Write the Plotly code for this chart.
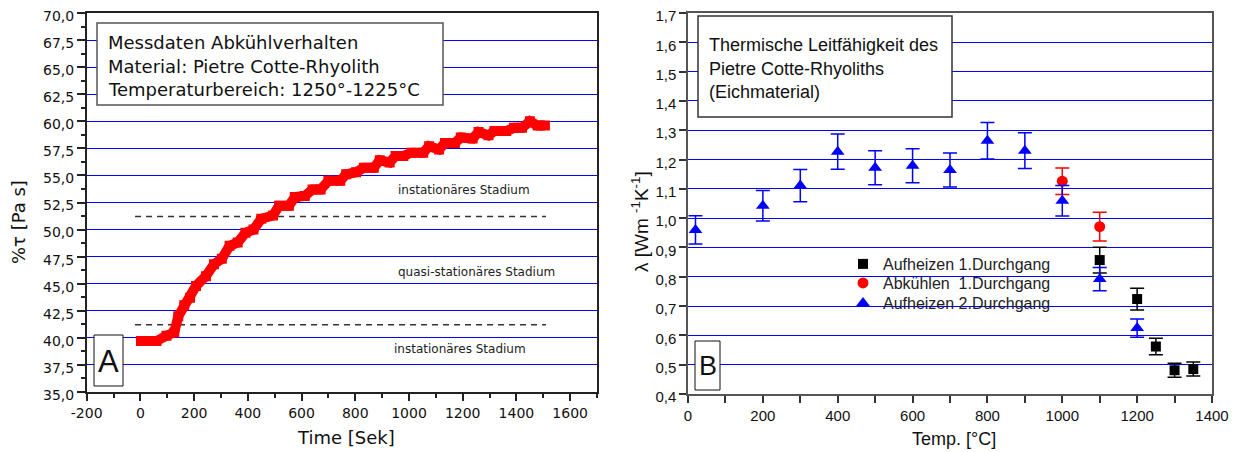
import plotly.graph_objects as go

# The page body has an 8px default margin, so the figure is drawn 8px in from the
# top-left corner of the window; reference pixel positions are converted accordingly.
OFF = 8
W, H = 1239 - OFF, 452 - OFF


def px(x):
    return (x - OFF) / W


def py(y):
    return 1 - (y - OFF) / H


# ---------------- Panel A data ----------------
time_s = [2, 30, 60, 97, 126, 141, 163, 185, 207, 244, 274, 303, 332, 362, 391, 421, 450,
          494, 516, 553, 575, 612, 641, 671, 700, 744, 766, 803, 832, 869, 891, 928, 950,
          979, 1009, 1053, 1075, 1112, 1134, 1171, 1193, 1237, 1259, 1296, 1318, 1362,
          1391, 1421, 1450, 1479, 1506]
tau = [39.7, 39.7, 39.7, 40.2, 40.5, 42.0, 43.0, 43.7, 44.8, 45.7, 46.8, 47.3, 48.5, 48.8,
       49.7, 50.0, 51.0, 51.3, 52.2, 52.2, 53.0, 53.1, 53.7, 53.7, 54.5, 54.5, 55.1, 55.3,
       55.7, 55.7, 56.4, 56.2, 56.8, 56.8, 57.1, 57.1, 57.7, 57.4, 58.0, 58.0, 58.5, 58.4,
       59.0, 58.7, 59.1, 59.1, 59.4, 59.4, 60.0, 59.6, 59.6]

time_tick_vals = [-200, 0, 200, 400, 600, 800, 1000, 1200, 1400, 1600]
time_tick_text = ["-200", "0", "200", "400", "600", "800", "1000", "1200", "1400", "1600"]

stage_levels = [51.2, 41.2]
stage_line_x = [-20, 1510]
stage_labels = ["instationäres Stadium", "quasi-stationäres Stadium", "instationäres Stadium"]
stage_label_x = [1203, 1253, 1190]
stage_label_y = [53.7, 46.1, 39.0]

info_lines_a = ["Messdaten Abkühlverhalten", "Material: Pietre Cotte-Rhyolith",
                "Temperaturbereich: 1250°-1225°C"]

# ---------------- Panel B data ----------------
t_auf1 = [1100, 1200, 1250, 1300, 1350]
l_auf1 = [0.857, 0.724, 0.562, 0.481, 0.485]
e_auf1 = [0.044, 0.037, 0.028, 0.024, 0.024]

t_abk1 = [1000, 1100]
l_abk1 = [1.126, 0.971]
e_abk1 = [0.045, 0.049]

t_auf2 = [20, 200, 300, 400, 500, 600, 700, 800, 900, 1000, 1100, 1200]
l_auf2 = [0.960, 1.042, 1.111, 1.227, 1.172, 1.179, 1.164, 1.264, 1.230, 1.059, 0.792, 0.625]
e_auf2 = [0.048, 0.052, 0.055, 0.060, 0.058, 0.058, 0.058, 0.062, 0.061, 0.052, 0.040, 0.031]

series_names = ["Aufheizen 1.Durchgang", "Abkühlen\u00a0\u00a01.Durchgang", "Aufheizen 2.Durchgang"]
info_lines_b = ["Thermische Leitfähigkeit des", "Pietre Cotte-Rhyoliths", "(Eichmaterial)"]

FA = "DejaVu Sans"
FB = "Liberation Sans"

fig = go.Figure()

# Panel A traces
for lvl in stage_levels:
    fig.add_trace(go.Scatter(x=stage_line_x, y=[lvl, lvl], mode="lines",
                             line=dict(color="#333333", width=1.5, dash="6px,5px"),
                             showlegend=False, hoverinfo="skip", xaxis="x", yaxis="y"))
fig.add_trace(go.Scatter(x=time_s, y=tau, mode="lines+markers",
                         line=dict(color="#ff0000", width=10),
                         marker=dict(symbol="square", size=10, color="#ff0000"),
                         showlegend=False, xaxis="x", yaxis="y"))

# Panel B traces
fig.add_trace(go.Scatter(x=t_auf1, y=l_auf1, mode="markers", name=series_names[0],
                         marker=dict(symbol="square", size=10, color="black"),
                         error_y=dict(type="data", array=e_auf1, color="black", thickness=1.5, width=7),
                         xaxis="x2", yaxis="y2", legend="legend"))
fig.add_trace(go.Scatter(x=t_abk1, y=l_abk1, mode="markers", name=series_names[1],
                         marker=dict(symbol="circle", size=11, color="#ff0000"),
                         error_y=dict(type="data", array=e_abk1, color="#ff0000", thickness=1.5, width=7),
                         xaxis="x2", yaxis="y2", legend="legend2"))
fig.add_trace(go.Scatter(x=t_auf2, y=l_auf2, mode="markers", name=series_names[2],
                         marker=dict(symbol="triangle-up", size=12, color="#0000ff"),
                         error_y=dict(type="data", array=e_auf2, color="#0000ff", thickness=1.5, width=7),
                         xaxis="x2", yaxis="y2", legend="legend3"))

axcol = "#222222"
tickA = dict(family=FA, size=14, color="#111111")
tickB = dict(family=FB, size=15, color="#111111")
grid = "#0000ff"

dA_x = [px(86.7), px(597)]
dA_y = [py(392), py(13)]
dB_x = [px(688), px(1212)]
dB_y = [py(394), py(13)]


def leg(yc):
    return dict(x=px(843), y=py(yc), xanchor="left", yanchor="middle",
                bgcolor="rgba(0,0,0,0)", borderwidth=0,
                font=dict(family=FB, size=16, color="#222222"), itemwidth=30)


layout = dict(
    template="none",
    width=W, height=H, margin=dict(l=0, r=0, t=0, b=0, pad=0, autoexpand=False),
    paper_bgcolor="white", plot_bgcolor="white",
    separators=",.",
    xaxis=dict(domain=dA_x, range=[-200, 1700], tickmode="array", tickvals=time_tick_vals,
               ticktext=time_tick_text, showgrid=False, zeroline=False, automargin=False,
               ticklabeloverflow="allow",
               showline=True, linecolor=axcol, linewidth=1.5, mirror=True,
               ticks="outside", ticklen=7, tickcolor=axcol, tickwidth=1.5, tickfont=tickA,
               minor=dict(dtick=100, tick0=0, ticks="outside", ticklen=4, tickcolor=axcol),
               anchor="y"),
    yaxis=dict(domain=dA_y, range=[35, 70], dtick=2.5, tick0=35, tickformat=".1f",
               showgrid=True, gridcolor=grid, gridwidth=1, zeroline=False, automargin=False,
               ticklabeloverflow="allow", ticklabelshift=3,
               showline=True, linecolor=axcol, linewidth=1.5, mirror=True,
               ticks="outside", ticklen=8, tickcolor=axcol, tickwidth=1.5, tickfont=tickA,
               minor=dict(dtick=1.25, ticks="outside", ticklen=4, tickcolor=axcol),
               anchor="x"),
    xaxis3=dict(overlaying="x", anchor="y", side="top", range=[-200, 1700], dtick=200, tick0=0,
                showgrid=False, zeroline=False, showticklabels=False, automargin=False,
                ticks="inside", ticklen=7, tickcolor=axcol, tickwidth=1.5,
                minor=dict(dtick=100, ticks="inside", ticklen=4, tickcolor=axcol)),
    yaxis3=dict(overlaying="y", anchor="x", side="right", range=[35, 70], dtick=2.5, tick0=35,
                showgrid=False, zeroline=False, showticklabels=False, automargin=False,
                ticks="inside", ticklen=7, tickcolor=axcol, tickwidth=1.5,
                minor=dict(dtick=1.25, ticks="inside", ticklen=4, tickcolor=axcol)),
    xaxis2=dict(domain=dB_x, range=[0, 1400], dtick=200, tick0=0, showgrid=False, zeroline=False,
                showline=True, linecolor="#555555", linewidth=1.5, mirror=True, automargin=False,
                ticklabeloverflow="allow",
                ticks="outside", ticklen=7, tickcolor="#333333", tickwidth=1.5, tickfont=tickB,
                minor=dict(dtick=100, ticks="outside", ticklen=7, tickcolor="#333333"),
                anchor="y2"),
    yaxis2=dict(domain=dB_y, range=[0.4, 1.7], dtick=0.1, tick0=0.4, tickformat=".1f",
                showgrid=True, gridcolor=grid, gridwidth=1, zeroline=False, automargin=False,
                ticklabeloverflow="allow", ticklabelshift=3,
                showline=True, linecolor="#555555", linewidth=1.5, mirror=True,
                ticks="outside", ticklen=7, tickcolor="#333333", tickwidth=1.5, tickfont=tickB,
                anchor="x2"),
    xaxis4=dict(overlaying="x2", anchor="y2", side="top", range=[0, 1400], dtick=100, tick0=0,
                showgrid=False, zeroline=False, showticklabels=False, automargin=False,
                ticks="inside", ticklen=7, tickcolor="#333333", tickwidth=1.5),
    yaxis4=dict(overlaying="y2", anchor="x2", side="right", range=[0.4, 1.7], dtick=0.1, tick0=0.4,
                showgrid=False, zeroline=False, showticklabels=False, automargin=False,
                ticks="inside", ticklen=7, tickcolor="#333333", tickwidth=1.5),
    legend=leg(264),
    legend2=leg(283),
    legend3=leg(303),
    showlegend=True,
)
fig.update_layout(**layout)

shapes = []
annotations = []

# Panel A info box
shapes.append(dict(type="rect", xref="paper", yref="paper", x0=px(97), x1=px(443), y0=py(105), y1=py(23),
                   line=dict(color="#555555", width=1.5), fillcolor="white", layer="above"))
for i, t in enumerate(info_lines_a):
    annotations.append(dict(xref="paper", yref="paper", x=px(106), y=py(43 + 23 * i), text=t,
                            xanchor="left", yanchor="middle", showarrow=False,
                            font=dict(family=FA, size=18, color="#111111")))
# A letter box
shapes.append(dict(type="rect", xref="paper", yref="paper", x0=px(94), x1=px(123), y0=py(386), y1=py(335),
                   line=dict(color="#111111", width=1), fillcolor="white", layer="above"))
annotations.append(dict(xref="paper", yref="paper", x=px(108.5), y=py(361), text="A",
                        xanchor="center", yanchor="middle", showarrow=False,
                        font=dict(family=FB, size=31, color="#111111")))
# stage labels
for t, xx, yy in zip(stage_labels, stage_label_x, stage_label_y):
    annotations.append(dict(xref="x", yref="y", x=xx, y=yy, text=t, showarrow=False,
                            xanchor="center", yanchor="middle",
                            font=dict(family=FA, size=12, color="#222222")))
# axis titles A
annotations.append(dict(xref="paper", yref="paper", x=px(346), y=py(437), text="Time [Sek]",
                        showarrow=False, xanchor="center", yanchor="middle",
                        font=dict(family=FA, size=18, color="#111111")))
annotations.append(dict(xref="paper", yref="paper", x=px(19), y=py(222), text="%τ [Pa s]",
                        showarrow=False, xanchor="center", yanchor="middle", textangle=-90,
                        font=dict(family=FA, size=18, color="#111111")))

# Panel B info box
shapes.append(dict(type="rect", xref="paper", yref="paper", x0=px(698), x1=px(952), y0=py(117), y1=py(16),
                   line=dict(color="#333333", width=1.5), fillcolor="white", layer="above"))
for i, t in enumerate(info_lines_b):
    annotations.append(dict(xref="paper", yref="paper", x=px(707), y=py(45 + 23.5 * i), text=t,
                            xanchor="left", yanchor="middle", showarrow=False,
                            font=dict(family=FB, size=18, color="#111111")))
# B letter box
shapes.append(dict(type="rect", xref="paper", yref="paper", x0=px(695), x1=px(720), y0=py(390), y1=py(341),
                   line=dict(color="#111111", width=1), fillcolor="white", layer="above"))
annotations.append(dict(xref="paper", yref="paper", x=px(707.5), y=py(366), text="B",
                        xanchor="center", yanchor="middle", showarrow=False,
                        font=dict(family=FB, size=27, color="#111111")))
# axis titles B
annotations.append(dict(xref="paper", yref="paper", x=px(954), y=py(439), text="Temp. [°C]",
                        showarrow=False, xanchor="center", yanchor="middle",
                        font=dict(family=FB, size=18, color="#111111")))
annotations.append(dict(xref="paper", yref="paper", x=px(640), y=py(222),
                        text="λ [Wm <sup>-1</sup>K<sup>-1</sup>]",
                        showarrow=False, xanchor="center", yanchor="middle", textangle=-90,
                        font=dict(family=FB, size=19, color="#111111")))

fig.update_layout(shapes=shapes, annotations=annotations)
fig.write_html("out.html")
